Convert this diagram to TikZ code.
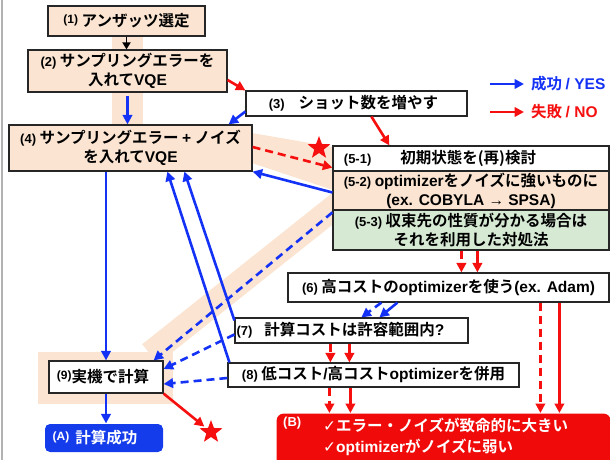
\documentclass[tikz,border=0pt]{standalone}
\usepackage{fontspec}
\setmainfont{Liberation Sans}
\newfontfamily\jpf{Noto Sans CJK JP}[BoldFont={* Bold}]
\newfontfamily\symf{DejaVu Sans}
\usetikzlibrary{arrows.meta,shapes.geometric,calc}
\newcommand{\ent}[1]{{\rmfamily\bfseries #1}}
\newcommand{\lab}[1]{{\rmfamily\bfseries\fontsize{13}{13}\selectfont #1}}
\newcommand{\slab}[1]{\raisebox{3pt}{\rmfamily\bfseries\fontsize{12}{12}\selectfont #1}}
\newcommand{\chk}{{\symf\bfseries ✓}}
\definecolor{peach}{RGB}{251,229,210}
\definecolor{grn}{RGB}{214,233,211}
\definecolor{blu}{RGB}{20,50,245}
\definecolor{rd}{RGB}{245,15,15}
\definecolor{bluebox}{RGB}{20,60,235}
\definecolor{redbox}{RGB}{240,10,10}
\tikzset{
  box/.style={draw=black!85, line width=1.2pt, inner sep=0pt, align=center,
    font=\jpf\bfseries\fontsize{15.5}{19}\selectfont},
  bar/.style={line width=2.6pt, -{Triangle[length=9.5pt,width=9.5pt]}},
  yes/.style={bar, draw=blu},
  no/.style={bar, draw=rd},
  dsh/.style={dash pattern=on 8pt off 5pt},
  starmark/.style={star, star points=5, star point ratio=2.4, fill=rd, inner sep=0pt, minimum size=24pt},
}
\begin{document}
\begin{tikzpicture}[x=1pt,y=-1pt]
\useasboundingbox (0,0) rectangle (610,460);
\clip (0,0) rectangle (610,460);
% left border line
\draw[black!30, line width=2pt] (2,0) -- (2,460);
% peach bands
\fill[peach] (112,36) rectangle (143,125);
\fill[peach] (252,133) -- (333,147) -- (333,190) -- (252,163) -- cycle;
\draw[peach, line width=25pt] (346,198) -- (150,354);
\fill[peach] (38,352) rectangle (173,404);
% boxes
\node[box, fill=peach, minimum width=157pt, minimum height=30pt] (n1) at (126.5,21)
  {\slab{(1)} アンザッツ選定};
\node[box, fill=peach, minimum width=199pt, minimum height=42pt] (n2) at (127.5,71)
  {\lab{(2)} サンプリングエラーを\\入れて\ent{VQE}};
\node[box, fill=white, minimum width=221pt, minimum height=25pt] (n3) at (356.5,103.5)
  {\lab{(3)}\hspace{14pt}ショット数を増やす\hspace{6pt}};
\node[box, fill=peach, minimum width=243pt, minimum height=46pt] (n4) at (130.5,148)
  {\lab{(4)} サンプリングエラー \ent{+} ノイズ\\を入れて\ent{VQE}};
\node[box, fill=white, minimum width=276pt, minimum height=25pt] (n51) at (471,158.5)
  {\lab{(5-1)}\hspace{29pt}初期状態を(再)検討\hspace{62pt}};
\node[box, fill=peach, minimum width=276pt, minimum height=39pt] (n52) at (471,190.5)
  {\lab{(5-2)} \ent{optimizer}をノイズに強いものに\\\ent{(ex. COBYLA → SPSA)}};
\node[box, fill=grn, minimum width=276pt, minimum height=40pt] (n53) at (471,230)
  {\lab{(5-3)} 収束先の性質が分かる場合は\hspace{18pt}\\それを利用した対処法};
\node[box, fill=white, minimum width=321pt, minimum height=29pt] (n6) at (448.5,287.5)
  {\lab{(6)} 高コストの\ent{optimizer}を使う\ent{(ex. Adam)}};
\node[box, fill=white, minimum width=233pt, minimum height=25pt] (n7) at (351.5,330.5)
  {\lab{(7)}\hspace{12pt}計算コストは許容範囲内\ent{?}\hspace{22pt}};
\node[box, fill=white, minimum width=291pt, minimum height=24pt] (n8) at (373.5,375)
  {\lab{(8)} 低コスト\ent{/}高コスト\ent{optimizer}を併用};
\node[box, fill=white, minimum width=114pt, minimum height=32pt] (n9) at (106,377)
  {\slab{(9)}実機で計算\hspace{6pt}};
\node[box, draw=none, fill=bluebox, text=white, rounded corners=5pt, minimum width=118pt, minimum height=28pt] (nA) at (104,438)
  {\slab{(A)}\hspace{6pt}計算成功\hspace{18pt}};
\node[box, draw=none, fill=redbox, text=white, rounded corners=7pt, minimum width=334pt, minimum height=60pt, anchor=north west] (nB) at (276,413) {};
\node[anchor=north west, inner sep=0pt, text=white] (nBl) at (283,417) {\lab{(B)}};
\node[anchor=north west, inner sep=0pt, text=white, align=left,
  font=\jpf\bfseries\fontsize{15.5}{21}\selectfont] (nBt) at (323,418)
  {\chk エラー・ノイズが致命的に大きい\\\chk\ent{optimizer}がノイズに弱い};
% stars
\node[starmark] (s1) at (319,148) {};
\node[starmark] (s2) at (211,432) {};
% legend
\coordinate (la1) at (490,84); \coordinate (la2) at (524,84);
\coordinate (lb1) at (490,112); \coordinate (lb2) at (524,112);
\draw[yes] (la1) -- (la2);
\draw[no] (lb1) -- (lb2);
\node[anchor=west, inner sep=0pt, text=blu, font=\jpf\bfseries\fontsize{15.5}{19}\selectfont] (lgy) at (531,84) {成功 \ent{/ YES}};
\node[anchor=west, inner sep=0pt, text=rd, font=\jpf\bfseries\fontsize{15.5}{19}\selectfont] (lgn) at (531,112) {失敗 \ent{/ NO}};
% connectors
\draw[bar, draw=black, line width=1.8pt, -{Triangle[length=7pt,width=8pt]}] (n1.south) -- (n1.south |- n2.north);
\draw[yes, shorten <=3pt] (n2.south) -- (n4.north -| n2.south);
\draw[no] ($(n2.east)+(0,9)$) -- (n3.north west);
\draw[yes] ($(n3.west)+(0,8)$) -- ($(n4.north east)+(-24,0)$);
\draw[no] ($(n3.south west)+(126,0)$) -- ($(n51.north west)+(57,0)$);
\draw[no, dsh] ($(n4.east)+(0,-1)$) -- ($(n51.south west)+(0,-4)$);
\draw[yes] ($(n52.west)+(0,2)$) -- (n4.south east);
\draw[yes, dsh] ($(n53.north west)+(0,3)$) -- ($(n9.north east)+(-10,0)$);
\draw[no, dsh] ($(n53.south west)+(129,0)$) coordinate (p1) -- (p1 |- n6.north);
\draw[no] ($(n53.south west)+(145,0)$) coordinate (p2) -- (p2 |- n6.north);
\draw[yes, dsh] ($(n6.south west)+(94,0)$) -- ($(n7.north west)+(127,0)$);
\draw[yes] ($(n6.south west)+(110,0)$) -- ($(n7.north west)+(145,0)$);
\draw[yes] ($(n7.north west)+(0,3)$) -- ($(n4.south west)+(176,0)$);
\draw[yes] ($(n8.north west)+(2,0)$) -- ($(n4.south west)+(159,0)$);
\draw[yes, dsh] ($(n7.west)+(0,4)$) -- ($(n9.east)+(0,-8)$);
\draw[yes, dsh] ($(n8.west)+(0,3)$) -- ($(n9.east)+(0,7)$);
\draw[no, dsh] ($(n7.south west)+(96,0)$) coordinate (p3) -- (p3 |- n8.north);
\draw[no] ($(n7.south west)+(115,0)$) coordinate (p4) -- (p4 |- n8.north);
\draw[no, dsh] ($(n8.south west)+(102,0)$) coordinate (p5) -- (p5 |- nB.north);
\draw[no] ($(n8.south west)+(123,0)$) coordinate (p6) -- (p6 |- nB.north);
\draw[no, dsh] ($(n6.south west)+(253,0)$) coordinate (p7) -- (p7 |- nB.north);
\draw[no] ($(n6.south west)+(272,0)$) coordinate (p8) -- (p8 |- nB.north);
\draw[yes] (n9.north |- n4.south) -- (n9.north);
\draw[yes] (n9.south) -- (n9.south |- nA.north);
\draw[no, shorten >=2pt] (n9.south east) -- (s2);
\end{tikzpicture}
\end{document}
